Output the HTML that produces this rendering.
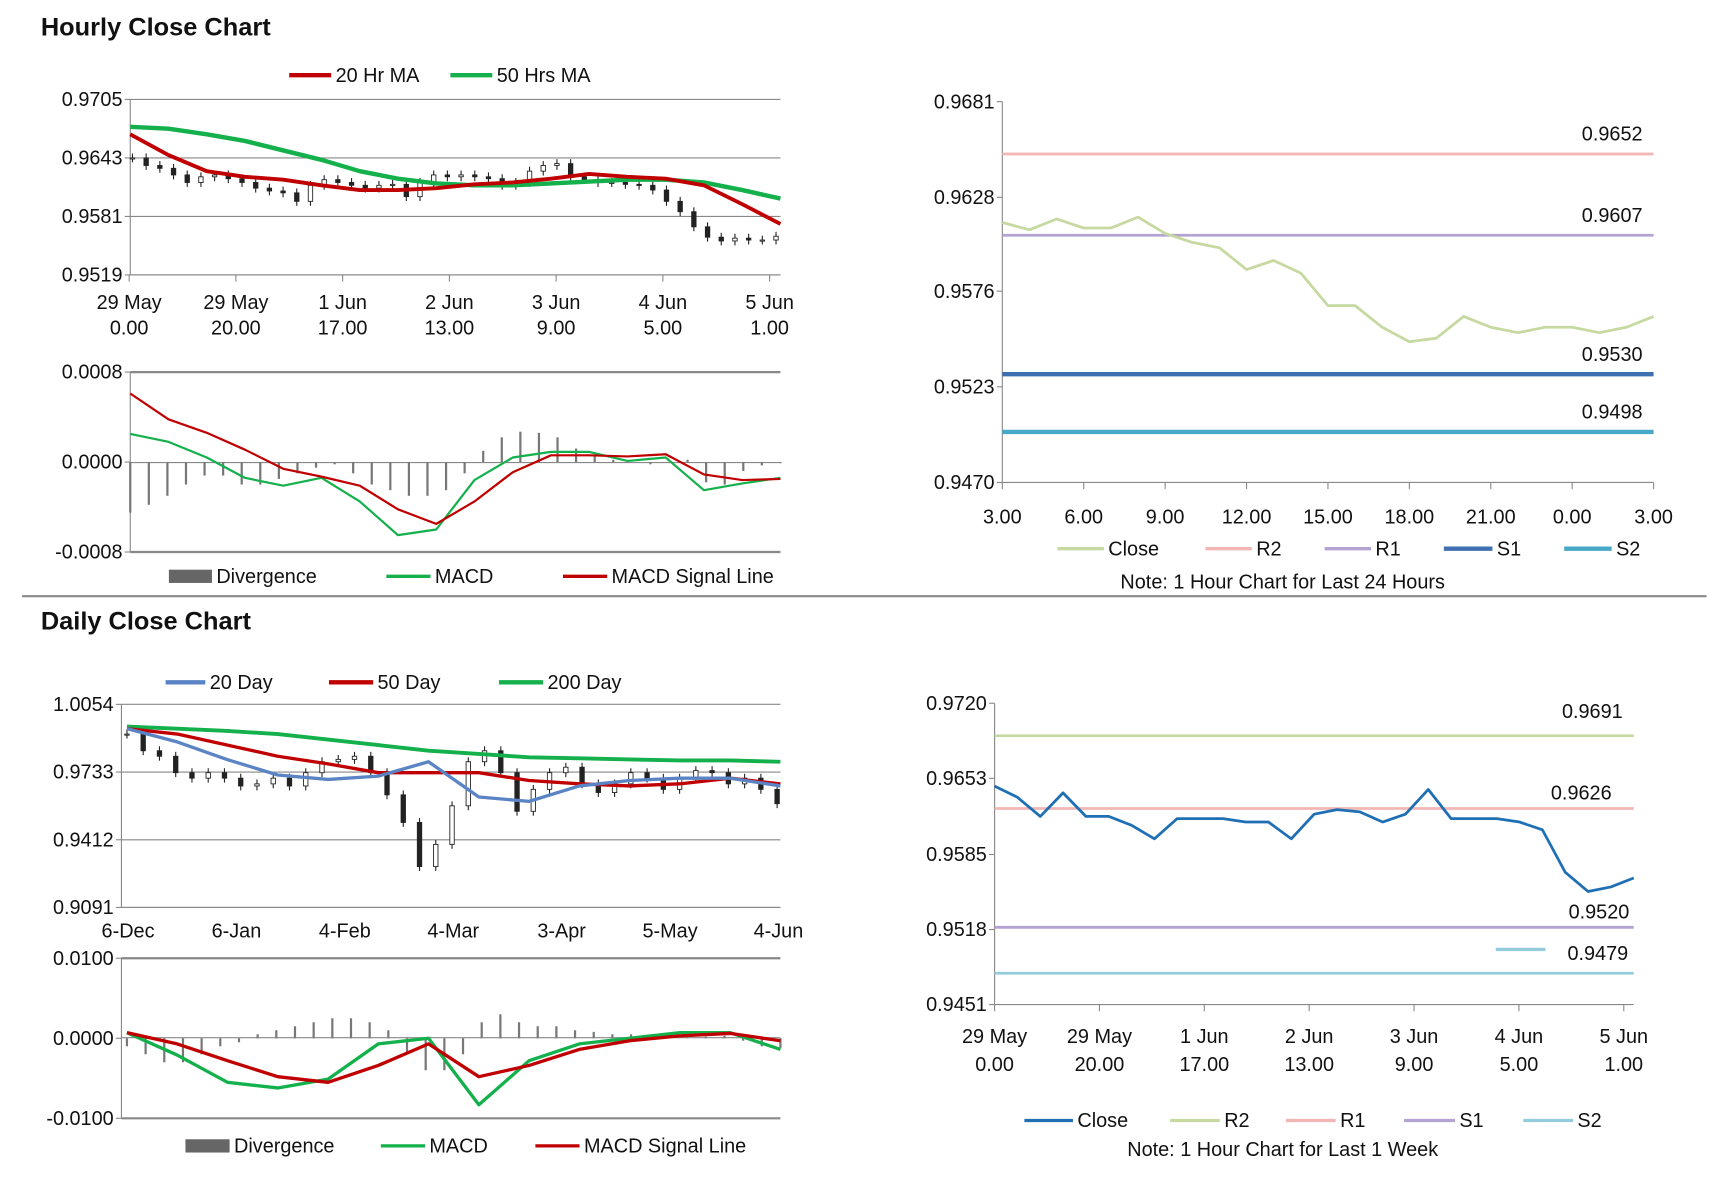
<!DOCTYPE html>
<html><head><meta charset="utf-8"><style>
html,body{margin:0;padding:0;background:#fff;width:1711px;height:1178px;overflow:hidden}
svg{display:block}
text{font-family:"Liberation Sans Narrow","Liberation Sans",sans-serif;font-size:18px;fill:#111}
.t{font-family:"Liberation Sans",sans-serif;font-weight:bold;font-size:23px}
</style></head><body>
<svg id="s" width="1711" height="1178" viewBox="0 0 1550 1067">
<text class="t" x="37" y="32">Hourly Close Chart</text>
<text class="t" x="37" y="570">Daily Close Chart</text>
<line x1="20" y1="540" x2="1546" y2="540" stroke="#888" stroke-width="2"/>
<line x1="20" y1="1075" x2="1546" y2="1075" stroke="#888" stroke-width="2"/>
</svg>
<script>
// ---- data ----
const hCandles=[0.9643,0.9635,0.9632,0.9625,0.9617,0.9623,0.9625,0.9621,0.9617,0.9611,0.9608,0.9606,0.9597,0.9614,0.9620,0.9617,0.9614,0.9611,0.9614,0.9615,0.9602,0.9617,0.9625,0.9623,0.9625,0.9623,0.9621,0.9614,0.9617,0.9629,0.9635,0.9637,0.9623,0.9620,0.9617,0.9617,0.9615,0.9614,0.9609,0.9597,0.9586,0.9570,0.9559,0.9555,0.9558,0.9556,0.9556,0.9560];
const hMA20=[0.9668,0.9646,0.9629,0.9623,0.9620,0.9614,0.9609,0.9609,0.9611,0.9615,0.9617,0.9621,0.9626,0.9623,0.9621,0.9614,0.9594,0.9573];
const hMA50=[0.9676,0.9674,0.9668,0.9661,0.9651,0.9641,0.9629,0.9621,0.9616,0.9614,0.9614,0.9616,0.9618,0.9620,0.9620,0.9617,0.9609,0.9600];
const hXTop=["29 May","29 May","1 Jun","2 Jun","3 Jun","4 Jun","5 Jun"];
const hXBot=["0.00","20.00","17.00","13.00","9.00","5.00","1.00"];
const hYTicks=[0.9519,0.9581,0.9643,0.9705];
const hMacd=[0.00025,0.00018,0.00004,-0.00014,-0.00021,-0.00014,-0.00035,-0.00065,-0.00060,-0.00016,0.00004,0.00009,0.00009,0.00001,0.00004,-0.00025,-0.00019,-0.00014];
const hSignal=[0.00061,0.00038,0.00026,0.00011,-0.00006,-0.00013,-0.00021,-0.00042,-0.00055,-0.00035,-0.00009,0.00006,0.00006,0.00005,0.00007,-0.00011,-0.00016,-0.00015];
const hDiv=[-0.00045,-0.00038,-0.00030,-0.00020,-0.00012,-0.00012,-0.00020,-0.00020,-0.00015,-0.00010,-0.00005,-0.00002,-0.00010,-0.00020,-0.00025,-0.00030,-0.00030,-0.00025,-0.00010,0.00010,0.00022,0.00027,0.00026,0.00022,0.00012,0.00005,0.00002,0.00000,-0.00002,0.00000,0.00002,-0.00018,-0.00020,-0.00008,-0.00003,-0.00001];
const r1Close=[0.9614,0.9610,0.9616,0.9611,0.9611,0.9617,0.9608,0.9603,0.9600,0.9588,0.9593,0.9586,0.9568,0.9568,0.9556,0.9548,0.9550,0.9562,0.9556,0.9553,0.9556,0.9556,0.9553,0.9556,0.9562];
const r1Levels=[0.9652,0.9607,0.9530,0.9498];
const r1XLabels=["3.00","6.00","9.00","12.00","15.00","18.00","21.00","0.00","3.00"];
const r1YTicks=[0.9470,0.9523,0.9576,0.9628,0.9681];
const dCandles=[0.9913,0.9834,0.9808,0.9730,0.9704,0.9730,0.9704,0.9667,0.9677,0.9704,0.9667,0.9730,0.9782,0.9793,0.9808,0.9730,0.9625,0.9494,0.9285,0.9390,0.9573,0.9782,0.9834,0.9730,0.9547,0.9651,0.9730,0.9756,0.9677,0.9636,0.9677,0.9730,0.9704,0.9651,0.9704,0.9740,0.9730,0.9677,0.9704,0.9651,0.9583];
const d20=[0.9939,0.9876,0.9792,0.9719,0.9698,0.9714,0.9782,0.9615,0.9594,0.9667,0.9693,0.9704,0.9704,0.9667];
const d50=[0.9939,0.9913,0.9861,0.9808,0.9772,0.9730,0.9730,0.9730,0.9693,0.9677,0.9667,0.9677,0.9704,0.9677];
const d200=[0.9949,0.9939,0.9928,0.9913,0.9887,0.9861,0.9834,0.9819,0.9803,0.9798,0.9793,0.9788,0.9788,0.9782];
const dXLabels=["6-Dec","6-Jan","4-Feb","4-Mar","3-Apr","5-May","4-Jun"];
const dYTicks=[0.9091,0.9412,0.9733,1.0054];
const dMacd=[0.0007,-0.0021,-0.0055,-0.0062,-0.0051,-0.0007,0.0000,-0.0083,-0.0028,-0.0007,0.0000,0.0007,0.0007,-0.0014];
const dSignal=[0.0007,-0.0007,-0.0028,-0.0048,-0.0055,-0.0034,-0.0007,-0.0048,-0.0034,-0.0014,-0.0003,0.0003,0.0006,-0.0003];
const dDiv=[-0.001,-0.002,-0.003,-0.003,-0.002,-0.001,-0.0005,0.0005,0.001,0.0015,0.002,0.0025,0.0025,0.002,0.001,-0.002,-0.004,-0.004,-0.002,0.002,0.003,0.002,0.0015,0.0015,0.001,0.0008,0.0005,0.0005,0.0003,0.0002,0.0001,0.0002,0.0003,-0.0003,-0.001,-0.0012];
const r2Close=[0.9646,0.9636,0.9619,0.9640,0.9619,0.9619,0.9611,0.9599,0.9617,0.9617,0.9617,0.9614,0.9614,0.9599,0.9621,0.9625,0.9623,0.9614,0.9621,0.9643,0.9617,0.9617,0.9617,0.9614,0.9607,0.9569,0.9552,0.9556,0.9564];
const r2Levels=[0.9691,0.9626,0.9520,0.9479];
const r2XTop=["29 May","29 May","1 Jun","2 Jun","3 Jun","4 Jun","5 Jun"];
const r2XBot=["0.00","20.00","17.00","13.00","9.00","5.00","1.00"];
const r2YTicks=[0.9451,0.9518,0.9585,0.9653,0.9720];

// ---- helpers ----
const S=document.getElementById('s');const NS='http://www.w3.org/2000/svg';
function el(t,a,txt){const e=document.createElementNS(NS,t);for(const k in a)e.setAttribute(k,a[k]);if(txt!==undefined)e.textContent=txt;S.appendChild(e);return e;}
function lin(d0,d1,r0,r1){return v=>r0+(v-d0)/(d1-d0)*(r1-r0);}
function polyline(arr,x,y,color,w,name){
  const pts=arr.map((v,i)=>x(i).toFixed(1)+','+y(v).toFixed(1)).join(' ');
  const p=el('polyline',{points:pts,fill:'none',stroke:color,'stroke-width':w,'stroke-linejoin':'round'});
  
  
}
function yAxis(ticks,y,L,R,fmt,grid,name){
  ticks.forEach(t=>{
    const lb=el('text',{x:L-7,y:y(t)+6,'text-anchor':'end'},fmt(t));
    
    
    el('line',{x1:L-5,y1:y(t),x2:L,y2:y(t),stroke:'#888'});
    if(grid){const g=el('line',{x1:L,y1:y(t),x2:R,y2:y(t),stroke:'#888','stroke-width':1});
      
      }
  });
  el('line',{x1:L,y1:y(ticks[0]),x2:L,y2:y(ticks[ticks.length-1]),stroke:'#888'});
}
function legendLine(x1,x2,yy,color,w,label,name){
  const l=el('line',{x1:x1,y1:yy,x2:x2,y2:yy,stroke:color,'stroke-width':w});
  
  
  const t=el('text',{x:x2+4,y:yy+6},label);
  
  
}
function legendBox(x1,x2,yy,label,name){
  const r=el('rect',{x:x1,y:yy-6,width:x2-x1,height:12,fill:'#666'});
  
  
  const t=el('text',{x:x2+4,y:yy+6},label);
  
  
}
function candles(arr,x,y,name){
  arr.forEach((c,i)=>{
    const o=i?arr[i-1]:c; const px=x(i);
    const top=y(Math.max(o,c)), bot=y(Math.min(o,c));
    const w=el('line',{x1:px,y1:top-4,x2:px,y2:bot+4,stroke:'#222','stroke-width':1});
    
    
    const b=el('rect',{x:px-2,y:top,width:4,height:Math.max(1,bot-top),fill:c>=o?'#fff':'#222',stroke:'#222','stroke-width':0.8});
    
    
  });
}
function bars(arr,x,y,name){
  arr.forEach((v,i)=>{
    const b=el('line',{x1:x(i),y1:y(0),x2:x(i),y2:y(v),stroke:'#777','stroke-width':2});
    
    
  });
}

// ---- hourly main ----
{const L=118,R=707,y=lin(0.9519,0.9705,249,90);
 yAxis(hYTicks,y,L,R,v=>v.toFixed(4),true,'hourly-y');
 el('line',{x1:L,y1:249,x2:R,y2:249,stroke:'#888'});
 hXTop.forEach((t,i)=>{const px=117+i*96.7;
   el('line',{x1:px,y1:249,x2:px,y2:255,stroke:'#888'});
   const a=el('text',{x:px,y:280,'text-anchor':'middle'},t);
   
   
   const b=el('text',{x:px,y:303,'text-anchor':'middle'},hXBot[i]);
   
   });
 candles(hCandles,i=>L+2+i*(R-L-6)/(hCandles.length-1),y,'hourly');
 polyline(hMA50,i=>L+i*(R-L)/(hMA50.length-1),y,'#13b04c',4,'hourly-ma50-line');
 polyline(hMA20,i=>L+i*(R-L)/(hMA20.length-1),y,'#c00000',3.5,'hourly-ma20-line');
 legendLine(262,300,68,'#c00000',4,'20 Hr MA','legend-20hr-ma');
 legendLine(408,446,68,'#13b04c',4,'50 Hrs MA','legend-50hrs-ma');
}
// ---- hourly macd ----
{const L=118,R=707,y=lin(-0.0008,0.0008,500,337);
 yAxis([-0.0008,0,0.0008],y,L,R,v=>v.toFixed(4),false,'hourly-macd-y');
 el('line',{x1:L,y1:337,x2:R,y2:337,stroke:'#888','stroke-width':2});
 el('line',{x1:L,y1:500,x2:R,y2:500,stroke:'#888','stroke-width':2});
 el('line',{x1:L,y1:419,x2:R,y2:419,stroke:'#888'});
 bars(hDiv,i=>L+i*(R-L)/(hDiv.length-1),y,'hourly-divergence-bar');
 polyline(hMacd,i=>L+i*(R-L)/(hMacd.length-1),y,'#13b04c',2,'hourly-macd-line');
 polyline(hSignal,i=>L+i*(R-L)/(hSignal.length-1),y,'#c00000',2,'hourly-signal-line');
 legendBox(153,192,522,'Divergence','legend-hourly-divergence');
 legendLine(350,390,522,'#13b04c',3,'MACD','legend-hourly-macd');
 legendLine(510,550,522,'#c00000',3,'MACD Signal Line','legend-hourly-signal');
}
// ---- right chart 1 ----
{const L=908,R=1498,y=lin(0.9470,0.9681,437,92);
 yAxis(r1YTicks,y,L,R,v=>v.toFixed(4),false,'pivot24-y');
 el('line',{x1:L,y1:437,x2:R,y2:437,stroke:'#888'});
 r1XLabels.forEach((t,i)=>{const px=L+i*(R-L)/8;
   el('line',{x1:px,y1:437,x2:px,y2:443,stroke:'#888'});
   const a=el('text',{x:px,y:474,'text-anchor':'middle','font-size':20},t);
   
   });
 const cols=['#f2b7b4','#b3a2d2','#3e6fb0','#47a9c7'],ws=[2.5,2.5,4,4],nm=['r2','r1','s1','s2'];
 r1Levels.forEach((v,i)=>{const l=el('line',{x1:L,y1:y(v),x2:R,y2:y(v),stroke:cols[i],'stroke-width':ws[i]});
   
   
   const t=el('text',{x:1488,y:y(v)-12,'text-anchor':'end','font-size':20},v.toFixed(4));
   
   });
 polyline(r1Close,i=>L+i*(R-L)/(r1Close.length-1),y,'#c5d9a0',2.5,'pivot24-close-line');
 legendLine(958,1000,497,'#c5d9a0',3,'Close','legend-pivot24-close');
 legendLine(1092,1134,497,'#f2b7b4',3,'R2','legend-pivot24-r2');
 legendLine(1200,1242,497,'#b3a2d2',3,'R1','legend-pivot24-r1');
 legendLine(1308,1352,497,'#3e6fb0',4,'S1','legend-pivot24-s1');
 legendLine(1417,1460,497,'#47a9c7',4,'S2','legend-pivot24-s2');
 const n=el('text',{x:1162,y:533,'text-anchor':'middle','font-size':17},'Note: 1 Hour Chart for Last 24 Hours');
 
 
}
// ---- daily main ----
{const L=110,R=707,y=lin(0.9091,1.0054,822,638);
 yAxis(dYTicks,y,L,R,v=>v.toFixed(4),true,'daily-y');
 el('line',{x1:L,y1:822,x2:R,y2:822,stroke:'#888'});
 dXLabels.forEach((t,i)=>{const px=116+i*98.2;
   const a=el('text',{x:px,y:849,'text-anchor':'middle'},t);
   
   });
 candles(dCandles,i=>L+5+i*(R-L-8)/(dCandles.length-1),y,'daily');
 polyline(d200,i=>L+5+i*(R-L-5)/(d200.length-1),y,'#13b04c',3.5,'daily-200day-line');
 polyline(d50,i=>L+5+i*(R-L-5)/(d50.length-1),y,'#c00000',3,'daily-50day-line');
 polyline(d20,i=>L+5+i*(R-L-5)/(d20.length-1),y,'#5b84c4',3,'daily-20day-line');
 legendLine(150,186,618,'#5b84c4',4,'20 Day','legend-20day');
 legendLine(298,338,618,'#c00000',4,'50 Day','legend-50day');
 legendLine(452,492,618,'#13b04c',4,'200 Day','legend-200day');
}
// ---- daily macd ----
{const L=110,R=707,y=lin(-0.01,0.01,1013,868);
 yAxis([-0.01,0,0.01],y,L,R,v=>v.toFixed(4),false,'daily-macd-y');
 el('line',{x1:L,y1:868,x2:R,y2:868,stroke:'#888','stroke-width':2});
 el('line',{x1:L,y1:1013,x2:R,y2:1013,stroke:'#888','stroke-width':2});
 el('line',{x1:L,y1:940,x2:R,y2:940,stroke:'#888'});
 bars(dDiv,i=>L+5+i*(R-L-5)/(dDiv.length-1),y,'daily-divergence-bar');
 polyline(dMacd,i=>L+5+i*(R-L-5)/(dMacd.length-1),y,'#13b04c',3,'daily-macd-line');
 polyline(dSignal,i=>L+5+i*(R-L-5)/(dSignal.length-1),y,'#c00000',3,'daily-signal-line');
 legendBox(168,208,1038,'Divergence','legend-daily-divergence');
 legendLine(345,385,1038,'#13b04c',3,'MACD','legend-daily-macd');
 legendLine(485,525,1038,'#c00000',3,'MACD Signal Line','legend-daily-signal');
}
// ---- right chart 2 ----
{const L=901,R=1480,y=lin(0.9451,0.9720,910,637);
 yAxis(r2YTicks,y,L,R,v=>v.toFixed(4),false,'pivotweek-y');
 el('line',{x1:L,y1:910,x2:R,y2:910,stroke:'#888'});
 r2XTop.forEach((t,i)=>{const px=L+i*95;
   el('line',{x1:px,y1:910,x2:px,y2:916,stroke:'#888'});
   const a=el('text',{x:px,y:945,'text-anchor':'middle','font-size':20},t);
   
   
   const b=el('text',{x:px,y:970,'text-anchor':'middle','font-size':20},r2XBot[i]);
   
   });
 const cols=['#c5d9a0','#f2b7b4','#b3a2d2','#93cddd'],nm=['r2','r1','s1','s2'],lx=[1470,1460,1476,1475],dy=[-16,-8,-8,-12];
 r2Levels.forEach((v,i)=>{const l=el('line',{x1:L,y1:y(v),x2:R,y2:y(v),stroke:cols[i],'stroke-width':2.5});
   
   
   const t=el('text',{x:lx[i],y:y(v)+dy[i],'text-anchor':'end','font-size':20},v.toFixed(4));
   
   });
 el('line',{x1:1355,y1:860,x2:1400,y2:860,stroke:'#93cddd','stroke-width':3});
 polyline(r2Close,i=>L+i*(R-L)/(r2Close.length-1),y,'#1f6fb5',2.5,'pivotweek-close-line');
 legendLine(928,972,1015,'#1f6fb5',3,'Close','legend-pivotweek-close');
 legendLine(1060,1105,1015,'#c5d9a0',3,'R2','legend-pivotweek-r2');
 legendLine(1165,1210,1015,'#f2b7b4',3,'R1','legend-pivotweek-r1');
 legendLine(1272,1318,1015,'#b3a2d2',3,'S1','legend-pivotweek-s1');
 legendLine(1380,1425,1015,'#93cddd',3,'S2','legend-pivotweek-s2');
 const n=el('text',{x:1162,y:1047,'text-anchor':'middle','font-size':17},'Note: 1 Hour Chart for Last 1 Week');
 
 
}
</script>
</body></html>
